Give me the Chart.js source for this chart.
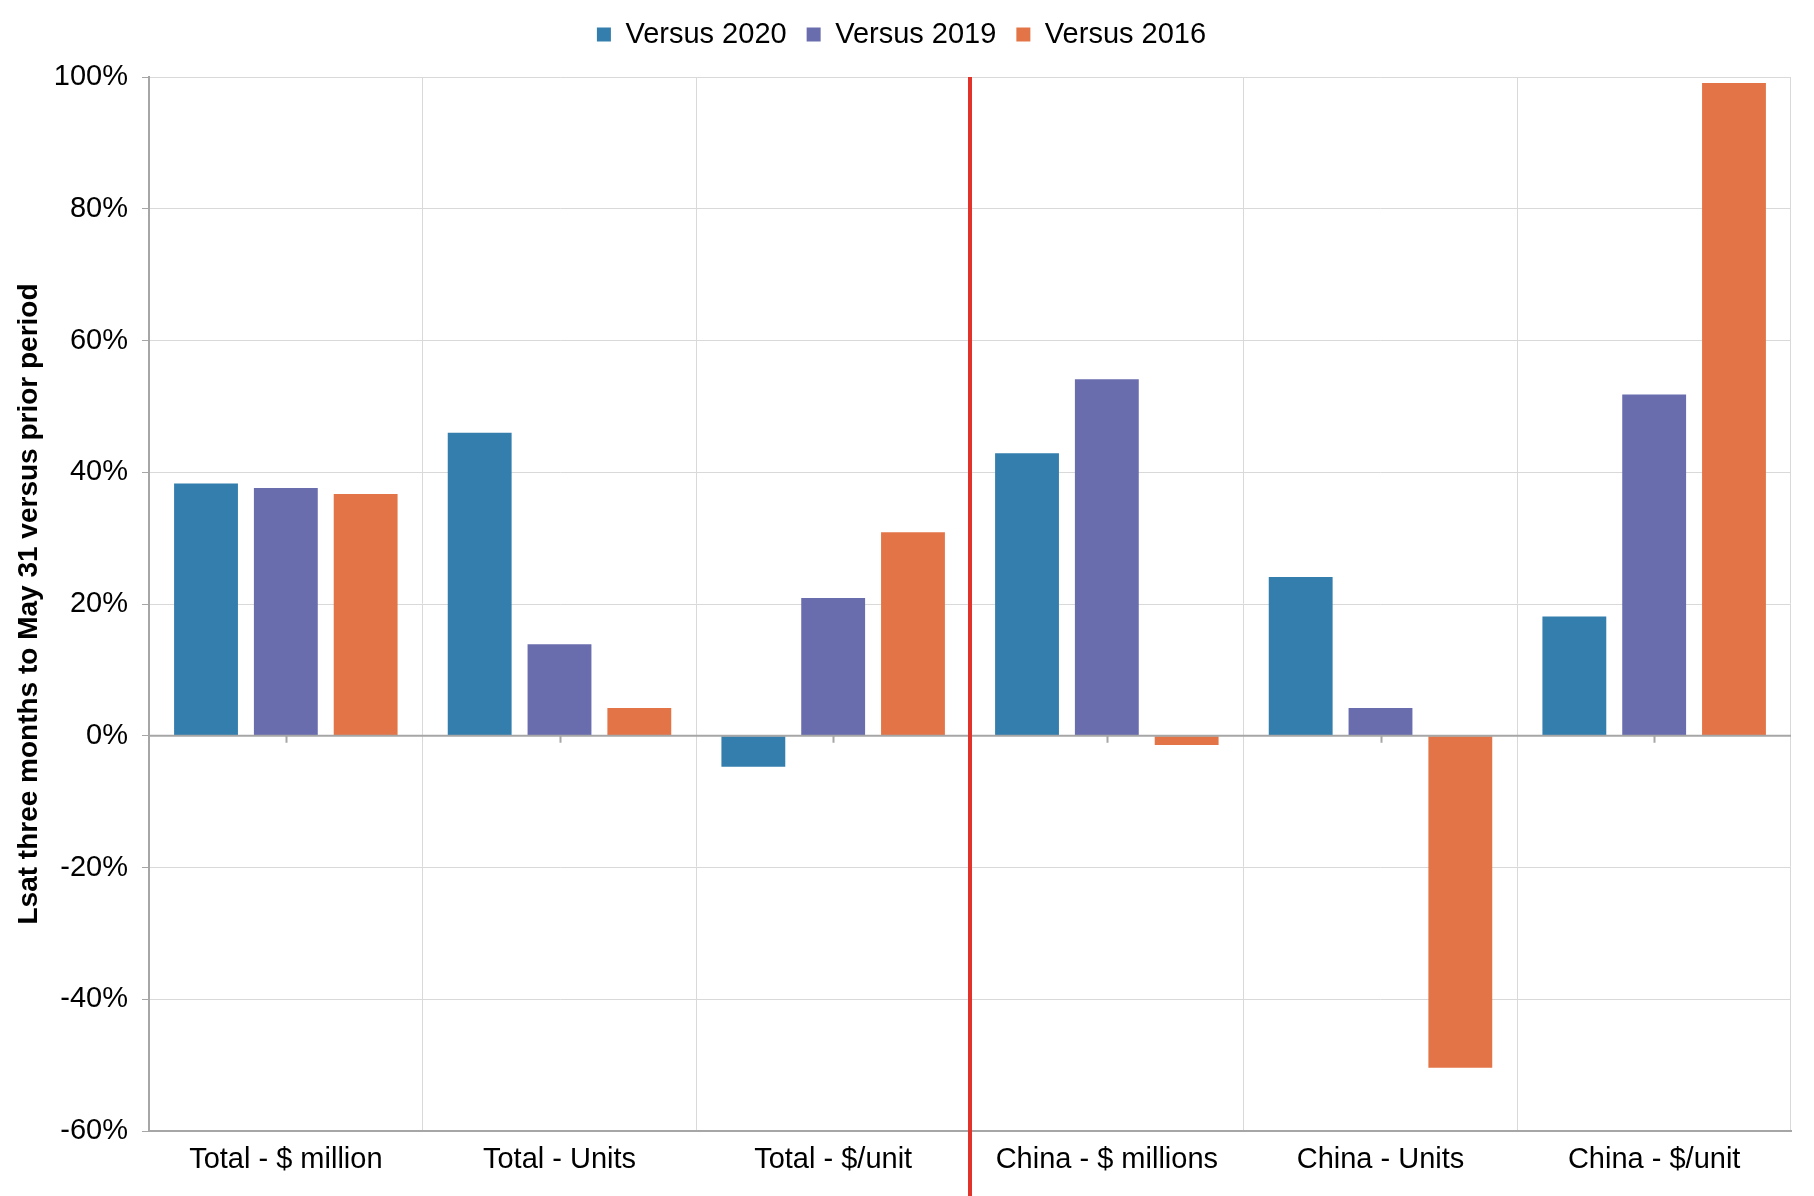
<!DOCTYPE html>
<html>
<head>
<meta charset="utf-8">
<script src="https://cdn.jsdelivr.net/npm/chart.js@4.4.1/dist/chart.umd.min.js"></script>
<style>
  html, body { margin: 0; padding: 0; background: #fff; }
  #wrap { width: 1814px; height: 1196px; position: relative; }
</style>
</head>
<body>
<div id="wrap"><canvas id="Chart"></canvas></div>
<script>
const categories = ["Total - $ million", "Total - Units", "Total - $/unit", "China - $ millions", "China - Units", "China - $/unit"];
const vs2020 = [38.3, 46.0, -4.7, 42.9, 24.1, 18.1];
const vs2019 = [37.6, 13.9, 20.9, 54.1, 4.2, 51.8];
const vs2016 = [36.7, 4.2, 30.9, -1.4, -50.4, 99.1];
const yTicks = [-60, -40, -20, 0, 20, 40, 60, 80, 100];

const FONT = "'Liberation Sans', Arial, sans-serif";

// red divider between Total and China groups, plus zero-axis tick marks
const dividerPlugin = {
  id: "divider",
  afterDraw(chart) {
    const { ctx, chartArea, scales } = chart;
    const x = scales.x, y = scales.y;
    const y0 = y.getPixelForValue(0);
    ctx.save();
    ctx.strokeStyle = "#a6a6a6";
    ctx.lineWidth = 2;
    ctx.beginPath();
    ctx.moveTo(chartArea.left, y0);
    ctx.lineTo(chartArea.right, y0);
    for (let i = 0; i < categories.length; i++) {
      const px = Math.round(x.getPixelForValue(i)) + 0.5;
      ctx.moveTo(px, y0);
      ctx.lineTo(px, y0 + 7);
    }
    ctx.stroke();
    const xd = (x.getPixelForValue(2) + x.getPixelForValue(3)) / 2;
    ctx.strokeStyle = "#e2332a";
    ctx.lineWidth = 4;
    ctx.beginPath();
    ctx.moveTo(xd, chartArea.top);
    ctx.lineTo(xd, chart.height);
    ctx.stroke();
    ctx.restore();
  }
};

const legendFit = {
  id: "legendFit",
  beforeInit(chart) {
    const orig = chart.legend.fit;
    chart.legend.fit = function () {
      orig.call(this);
      this.height = 77;
    };
  }
};

new Chart(document.getElementById("Chart"), {
  type: "bar",
  data: {
    labels: categories,
    datasets: [
      { label: "Versus 2020", data: vs2020, backgroundColor: "#337ead" },
      { label: "Versus 2019", data: vs2019, backgroundColor: "#696cad" },
      { label: "Versus 2016", data: vs2016, backgroundColor: "#e37447" }
    ]
  },
  options: {
    responsive: true,
    maintainAspectRatio: false,
    animation: false,
    devicePixelRatio: 1,
    layout: { padding: { left: 12, right: 23, top: 0, bottom: 0 } },
    datasets: { bar: { categoryPercentage: 0.875, barPercentage: 0.8 } },
    plugins: {
      tooltip: { enabled: false },
      legend: {
        position: "top",
        labels: {
          font: { family: FONT, size: 29 },
          color: "#000",
          boxWidth: 14,
          boxHeight: 14,
          padding: 20
        }
      }
    },
    scales: {
      x: {
        grid: { color: "#d9d9d9", lineWidth: 1, drawTicks: false },
        border: { color: "#a6a6a6", width: 2 },
        ticks: { font: { family: FONT, size: 29 }, color: "#000", padding: 12, maxRotation: 0 },
        afterFit(axis) { axis.height = 65; }
      },
      y: {
        min: -60,
        max: 100,
        afterBuildTicks(axis) { axis.ticks = yTicks.map(v => ({ value: v })); },
        grid: { color: "#d9d9d9", lineWidth: 1, tickLength: 7, tickColor: "#a6a6a6" },
        border: { color: "#a6a6a6", width: 2 },
        ticks: {
          font: { family: FONT, size: 29 },
          color: "#000",
          padding: 14,
          callback: v => v + "%"
        },
        title: {
          display: true,
          text: "Lsat three months to May 31 versus prior period",
          font: { family: FONT, size: 28, weight: "bold" },
          color: "#000",
          padding: { top: 0, bottom: 10 }
        },
        afterFit(axis) { axis.width = 137; }
      }
    }
  },
  plugins: [dividerPlugin, legendFit]
});
</script>
</body>
</html>
